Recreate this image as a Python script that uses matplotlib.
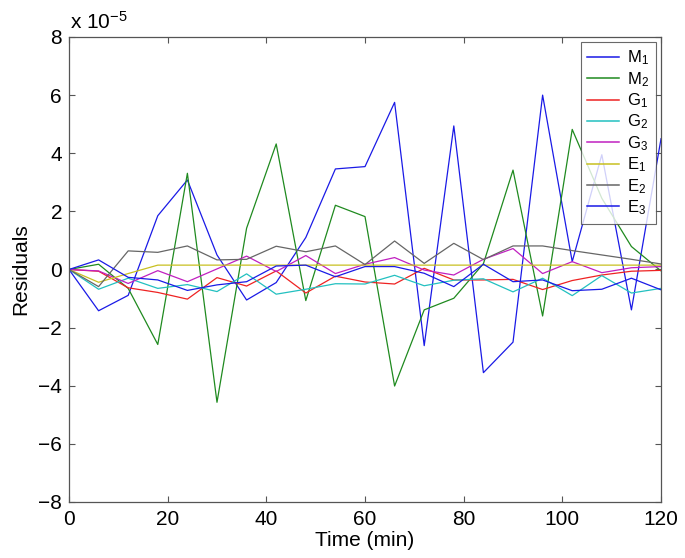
import numpy as np
import matplotlib
matplotlib.use("Agg")
import matplotlib.pyplot as plt

plt.rcParams['font.family'] = ['Liberation Sans', 'DejaVu Sans']
plt.rcParams['mathtext.default'] = 'regular'

# residuals, in units of 1e-5
time_min = np.arange(0, 121, 6)
scale = 1e-5
M1 = [0, -1.42, -0.89, 1.85, 3.08, 0.5, -1.05, -0.45, 1.1, 3.46, 3.54,
      5.75, -2.62, 4.94, -3.55, -2.5, 6.0, 0.27, 3.95, -1.39, 4.5]
M2 = [0, 0.18, -0.65, -2.58, 3.31, -4.57, 1.42, 4.32, -1.07, 2.21, 1.82,
      -4.01, -1.39, -0.99, 0.2, 3.42, -1.6, 4.82, 2.45, 0.79, -0.05]
G1 = [0, -0.06, -0.63, -0.79, -1.02, -0.28, -0.57, -0.05, -0.81, -0.23, -0.43,
      -0.5, 0.04, -0.36, -0.36, -0.34, -0.69, -0.38, -0.19, -0.06, -0.03]
G2 = [0, -0.68, -0.3, -0.65, -0.52, -0.76, -0.15, -0.85, -0.68, -0.49, -0.5,
      -0.2, -0.56, -0.37, -0.32, -0.77, -0.3, -0.9, -0.21, -0.81, -0.65]
G3 = [0, -0.05, -0.48, -0.04, -0.42, 0.02, 0.46, -0.07, 0.48, -0.14, 0.18,
      0.41, -0.02, -0.19, 0.35, 0.72, -0.14, 0.27, -0.11, 0.06, 0.1]
E1 = [0, -0.44, -0.14, 0.15, 0.15, 0.15, 0.15, 0.15, 0.15, 0.15, 0.15,
      0.15, 0.15, 0.15, 0.15, 0.15, 0.15, 0.15, 0.15, 0.15, 0.15]
E2 = [0, -0.59, 0.64, 0.59, 0.81, 0.33, 0.35, 0.8, 0.61, 0.81, 0.17,
      0.98, 0.21, 0.9, 0.34, 0.81, 0.81, 0.65, 0.5, 0.35, 0.19]
E3 = [0, 0.33, -0.27, -0.36, -0.72, -0.53, -0.42, 0.12, 0.15, -0.25, 0.1,
      0.1, -0.13, -0.59, 0.18, -0.42, -0.36, -0.73, -0.68, -0.3, -0.7]

series = [M1, M2, G1, G2, G3, E1, E2, E3]
labels = ['M$_1$', 'M$_2$', 'G$_1$', 'G$_2$', 'G$_3$', 'E$_1$', 'E$_2$', 'E$_3$']
colors = ['#1a1ae6', '#1f8a1f', '#ee2222', '#22c0c0', '#c020c0', '#c8c020', '#666666', '#1a1ae6']

fig = plt.figure(figsize=(6.85, 5.58), dpi=100)
ax = fig.add_axes([0.1007, 0.1004, 0.8643, 0.8333])

for vals, lab, col in zip(series, labels, colors):
    ax.plot(time_min, np.array(vals) * scale, color=col, lw=0.9, label=lab)

ax.set_xlim(0, 120)
ax.set_ylim(-8e-5, 8e-5)
ax.set_xticks(np.arange(0, 121, 20))
yt = np.arange(-8, 9, 2)
ax.set_yticks(yt * scale)
ax.set_yticklabels([str(v).replace('-', '\u2212') for v in yt])
ax.tick_params(direction='in', top=True, right=True, labelsize=15,
               length=4, width=0.8, color='#555555')
ax.tick_params(axis='x', pad=6)
ax.tick_params(axis='y', pad=5)
for s in ax.spines.values():
    s.set_color('#555555')
    s.set_linewidth(0.9)

ax.set_xlabel('Time (min)', fontsize=15, labelpad=1)
ax.set_ylabel('Residuals', fontsize=15, labelpad=6)
ax.text(0.002, 1.01, 'x 10$^{\u22125}$', transform=ax.transAxes,
        fontsize=15, ha='left', va='bottom')

leg = ax.legend(loc='upper right', fontsize=12, frameon=True, fancybox=False,
                edgecolor='#444444', borderaxespad=0.3, handlelength=1.9,
                labelspacing=0.16, borderpad=0.4, handletextpad=0.5)
leg.get_frame().set_linewidth(0.8)
for h in leg.get_lines():
    h.set_linewidth(1.1)

fig.savefig('out.png', dpi=100)
